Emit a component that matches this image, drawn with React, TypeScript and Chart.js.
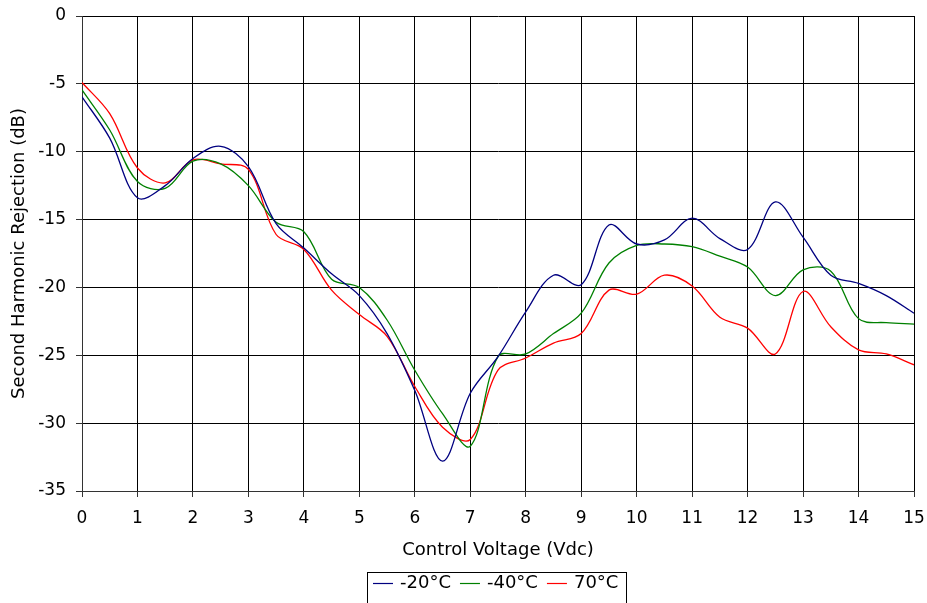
import React, { useEffect, useRef } from "react";
import { Chart, registerables } from "chart.js";

Chart.register(...registerables);

const voltages = [0, 0.5, 1, 1.5, 2, 2.5, 3, 3.5, 4, 4.5, 5, 5.5, 6, 6.5, 7, 7.5, 8, 8.5, 9, 9.5, 10, 10.5, 11, 11.5, 12, 12.5, 13, 13.5, 14, 14.5, 15];

const minus20 = [-5.95, -9.0, -13.4, -12.5, -10.5, -9.6, -11.1, -15.3, -17.1, -19.0, -20.6, -23.4, -27.6, -32.8, -27.8, -25.1, -21.8, -19.1, -19.8, -15.4, -16.8, -16.5, -14.9, -16.4, -17.2, -13.7, -16.3, -19.1, -19.7, -20.6, -21.9];

const minus40 = [-5.45, -8.4, -12.2, -12.7, -10.7, -10.9, -12.5, -15.2, -15.9, -19.4, -20.0, -22.4, -26.1, -29.3, -31.7, -25.1, -24.9, -23.4, -21.9, -18.2, -16.9, -16.8, -17.0, -17.7, -18.5, -20.6, -18.7, -18.8, -22.3, -22.6, -22.7];

const plus70 = [-4.9, -7.2, -11.2, -12.3, -10.6, -10.9, -11.3, -16.1, -17.2, -20.2, -22.0, -23.6, -27.3, -30.3, -31.2, -26.1, -25.2, -24.1, -23.4, -20.2, -20.5, -19.1, -19.9, -22.2, -23.0, -24.9, -20.3, -22.9, -24.6, -24.9, -25.7];

const seriesLabels = ["-20°C", "-40°C", "70°C"];
const seriesColors = ["#000080", "#008000", "#ff0000"];
const seriesValues = [minus20, minus40, plus70];

const FONT = "'DejaVu Sans', Verdana, sans-serif";

const legendBox = {
  id: "legendBox",
  afterDraw(chart: any) {
    const ctx = chart.ctx;
    ctx.save();
    ctx.strokeStyle = "#000";
    ctx.lineWidth = 1;
    ctx.strokeRect(367.5, 572.5, 259, 40);
    ctx.font = `18px ${FONT}`;
    ctx.textBaseline = "middle";
    ctx.fillStyle = "#000";
    const y = 583;
    let x = 373;
    chart.data.datasets.forEach((ds: any) => {
      ctx.strokeStyle = ds.borderColor;
      ctx.lineWidth = 1.2;
      ctx.beginPath();
      ctx.moveTo(x, Math.round(y) + 0.5);
      ctx.lineTo(x + 20, Math.round(y) + 0.5);
      ctx.stroke();
      x += 27;
      ctx.fillText(ds.label, x, y);
      x += ctx.measureText(ds.label).width + 9;
    });
    ctx.restore();
  },
};

export default function App() {
  const ref = useRef<HTMLCanvasElement | null>(null);
  useEffect(() => {
    if (!ref.current) return;
    const chart = new Chart(ref.current, {
      type: "line",
      data: {
        datasets: seriesValues.map((vals, i) => ({
          label: seriesLabels[i],
          data: voltages.map((v, j) => ({ x: v, y: vals[j] })),
          borderColor: seriesColors[i],
          backgroundColor: seriesColors[i],
          borderWidth: 1.3,
          pointRadius: 0,
          tension: 0.35,
          fill: false,
        })),
      },
      options: {
        responsive: false,
        animation: false,
        layout: { padding: { left: 0, top: 16, right: 13, bottom: 0 } },
        plugins: {
          legend: { display: false },
          tooltip: { enabled: false },
        },
        scales: {
          x: {
            type: "linear",
            min: 0,
            max: 15,
            ticks: {
              stepSize: 1,
              color: "#000",
              font: { family: FONT, size: 17 },
              padding: 11,
              maxRotation: 0,
            },
            grid: { color: "#000", lineWidth: 1, tickLength: 6, tickColor: "#333" },
            border: { color: "#333", width: 1 },
            title: {
              display: true,
              text: "Control Voltage (Vdc)",
              color: "#000",
              font: { family: FONT, size: 18 },
              padding: { top: 4, bottom: 42 },
            },
            afterFit: (scale: any) => {
              scale.height = 112;
              scale.paddingLeft = 0;
              scale.paddingRight = 0;
            },
          },
          y: {
            min: -35,
            max: 0,
            ticks: {
              stepSize: 5,
              color: "#000",
              font: { family: FONT, size: 17 },
              padding: 10,
            },
            grid: { color: "#000", lineWidth: 1, tickLength: 6, tickColor: "#333" },
            border: { color: "#333", width: 1 },
            title: {
              display: true,
              text: "Second Harmonic Rejection (dB)",
              color: "#000",
              font: { family: FONT, size: 18 },
              padding: { top: 9, bottom: 0 },
            },
            afterFit: (scale: any) => {
              scale.width = 82;
              scale.paddingTop = 0;
              scale.paddingBottom = 0;
            },
          },
        },
      },
      plugins: [legendBox],
    });
    return () => chart.destroy();
  }, []);
  return (
    <div style={{ position: "fixed", left: 0, top: 0, width: 927, height: 603, background: "#fff" }}>
      <canvas ref={ref} width={927} height={603} />
    </div>
  );
}
